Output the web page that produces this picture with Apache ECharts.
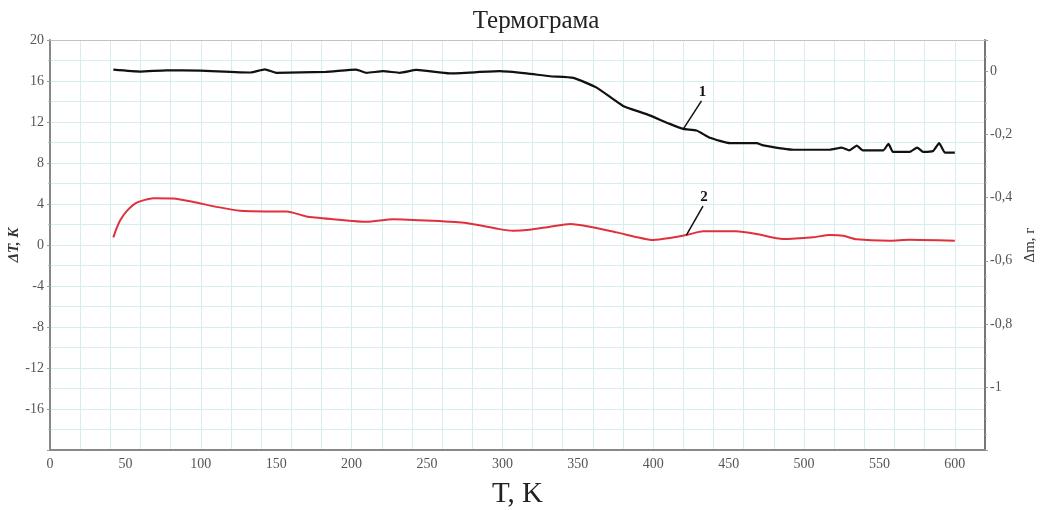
<!DOCTYPE html>
<html><head><meta charset="utf-8">
<script src="https://cdn.jsdelivr.net/npm/echarts@6/dist/echarts.min.js"></script>
<style>html,body{margin:0;padding:0;background:#fff}#c{width:1043px;height:510px}</style>
</head><body><div id="c"></div>
<script>
// Curve 1: mass change Δm, g (right axis)
const massT = [42,60,77,99.5,133,142.5,150,183,203,210,221,232,243,265,298,316,331.5,347,362.5,380,395.6,411,420,428.7,437.6,451,468.5,473,493,517,525,530,535,539,552.5,556,559,570,575,579,585.6,589.6,593.4,600];
const massV = [0.006,0,0.004,0.003,-0.003,0.007,-0.004,-0.001,0.006,-0.004,0.001,-0.004,0.005,-0.006,0.001,-0.006,-0.015,-0.02,-0.051,-0.109,-0.135,-0.166,-0.182,-0.187,-0.21,-0.227,-0.227,-0.234,-0.248,-0.248,-0.241,-0.25,-0.235,-0.25,-0.25,-0.229,-0.255,-0.255,-0.241,-0.255,-0.252,-0.227,-0.257,-0.257];
// Curve 2: temperature difference ΔT, K (left axis)
const dtaT = [42,43.5,46.4,51,57.5,68.5,81.8,95,110.5,126,143.7,157,170,188,210,227.6,254,276,298,307,318,331.5,345,358,375.7,400,411,422,433,455,468.5,486,506,517,526,535,557,570,600];
const dtaV = [0.75,1.39,2.36,3.33,4.14,4.56,4.53,4.2,3.72,3.33,3.27,3.27,2.79,2.52,2.26,2.52,2.36,2.14,1.55,1.39,1.49,1.78,2.04,1.78,1.23,0.49,0.68,0.97,1.33,1.33,1.07,0.58,0.75,0.97,0.9,0.55,0.42,0.51,0.42];
// Leader annotations: [anchorT, anchorV, endT, endV, label]
const note1 = [420, -0.182, 432, -0.093, '1'];
const note2 = [422, 0.97, 433, 3.8, '2'];
const xTicks = [0,50,100,150,200,250,300,350,400,450,500,550,600];

const serif = '"Liberation Serif","DejaVu Serif",serif';
const gridColor = '#d6eef0';
const chart = echarts.init(document.getElementById('c'), null, {renderer:'canvas'});
const zip = (a,b)=>a.map((v,i)=>[v,b[i]]);
function leader(n){
  return {
    silent:true, symbol:'none',
    lineStyle:{color:'#111',width:1.5,type:'solid'},
    label:{show:true,position:'end',formatter:n[4],color:'#111',fontFamily:serif,fontWeight:'bold',fontSize:15,distance:2},
    data:[[{coord:[n[0],n[1]]},{coord:[n[2],n[3]]}]]
  };
}
chart.setOption({
  animation:false,
  title:{text:'Термограма',left:531,textAlign:'center',top:4,textStyle:{fontFamily:serif,fontWeight:'normal',fontSize:25,color:'#222'}},
  grid:{left:50,right:58,top:40,bottom:60,containLabel:false,outerBoundsMode:'none'},
  xAxis:[{
    type:'value',min:0,max:620,interval:50,position:'bottom',
    name:'T, K',nameLocation:'middle',nameGap:30,
    nameTextStyle:{fontFamily:serif,fontSize:29,color:'#222'},
    axisLine:{show:true,onZero:false,lineStyle:{color:'#888',width:2}},
    axisTick:{show:false},
    axisLabel:{fontFamily:serif,fontSize:14,color:'#555',showMaxLabel:false,margin:7,
      formatter:v=>xTicks.includes(v)?String(v):''},
    splitLine:{show:false}
  },{
    type:'value',min:0,max:620,interval:20,position:'top',
    axisLine:{show:true,onZero:false,lineStyle:{color:'#bbb',width:1,type:'dotted'}},
    axisTick:{show:false},axisLabel:{show:false},
    splitLine:{show:true,lineStyle:{color:gridColor,width:1}}
  }],
  yAxis:[{
    type:'value',min:-20,max:20,interval:4,position:'left',
    name:'ΔT, K',nameLocation:'middle',nameGap:28,nameRotate:90,nameMoveOverlap:false,
    nameTextStyle:{fontFamily:serif,fontSize:15,fontStyle:'italic',fontWeight:'bold',color:'#333'},
    axisLine:{show:true,onZero:false,lineStyle:{color:'#888',width:2}},
    axisTick:{show:true,length:3,lineStyle:{color:'#999'}},
    minorTick:{show:true,splitNumber:2,length:2,lineStyle:{color:'#bbb'}},
    axisLabel:{fontFamily:serif,fontSize:14,color:'#555',showMinLabel:false,margin:6},
    splitLine:{show:true,lineStyle:{color:gridColor,width:1}},
    minorSplitLine:{show:true,lineStyle:{color:gridColor,width:1}}
  },{
    type:'value',min:-1.2,max:0.1,interval:0.2,position:'right',
    name:'Δm, г',nameLocation:'middle',nameGap:36,nameRotate:90,
    nameTextStyle:{fontFamily:serif,fontSize:15,color:'#333'},
    axisLine:{show:true,onZero:false,lineStyle:{color:'#777',width:2}},
    axisTick:{show:true,inside:false,length:3,lineStyle:{color:'#999'}},
    minorTick:{show:true,splitNumber:4,length:2,lineStyle:{color:'#bbb'}},
    axisLabel:{fontFamily:serif,fontSize:14,color:'#555',showMinLabel:false,showMaxLabel:false,margin:5,
      formatter:v=>{const r=Math.round(v*10)/10; return (r===0?'0':String(r)).replace('.',',');}},
    splitLine:{show:false}
  }],
  series:[{
    name:'1',type:'line',xAxisIndex:0,yAxisIndex:1,data:zip(massT,massV),
    showSymbol:false,smooth:0.15,lineStyle:{color:'#111',width:2.2},
    markLine:leader(note1),z:3
  },{
    name:'2',type:'line',xAxisIndex:0,yAxisIndex:0,data:zip(dtaT,dtaV),
    showSymbol:false,smooth:0.2,lineStyle:{color:'#e0303c',width:2},
    markLine:leader(note2),z:3
  }]
});
</script></body></html>
